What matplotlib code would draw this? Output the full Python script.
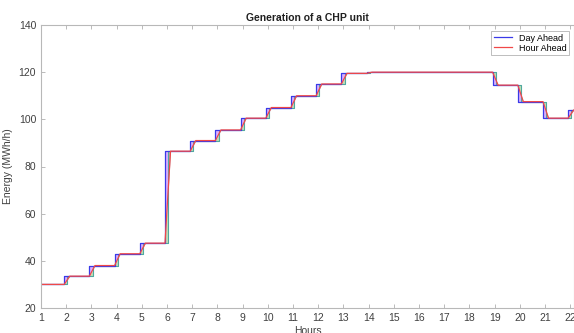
import matplotlib
matplotlib.use("Agg")
import matplotlib.pyplot as plt
import numpy as np

plt.rcParams["font.family"] = ["Liberation Sans", "DejaVu Sans"]

# hourly set-points of the CHP unit (MWh/h), hour 1 .. 22
hours = np.arange(1, 23)
energy = [30, 33.5, 38, 43, 47.5, 86.5, 91, 95.5, 100.5, 105, 110, 115,
          119.5, 120, 120, 120, 120, 120, 114.5, 107.5, 100.5, 104]

x_end = 23.0


def step_path(shift):
    xs, ys = [hours[0]], [energy[0]]
    for h, prev, cur in zip(hours[1:], energy[:-1], energy[1:]):
        xs += [h + shift, h + shift]
        ys += [prev, cur]
    xs.append(x_end)
    ys.append(energy[-1])
    return np.array(xs, float), np.array(ys, float)


def ramp_path(a, b):
    xs, ys = [hours[0]], [energy[0]]
    for h, prev, cur in zip(hours[1:], energy[:-1], energy[1:]):
        xs += [h + a, h + b]
        ys += [prev, cur]
    xs.append(x_end)
    ys.append(energy[-1])
    return np.array(xs, float), np.array(ys, float)


xb, yb = step_path(-0.08)         # day ahead
xt, yt = step_path(0.05)          # delayed schedule
xr, yr = ramp_path(-0.08, 0.14)   # hour ahead

grid = np.linspace(1, x_end, 20000)
yb_g = np.interp(grid, xb, yb)
yt_g = np.interp(grid, xt, yt)
yr_g = np.interp(grid, xr, yr)

fig = plt.figure(figsize=(5.74, 3.33), dpi=100)
ax = fig.add_axes([41 / 574, 1 - 308 / 333, 533 / 574, 283 / 333])

ax.fill_between(grid, yb_g, yr_g, color="#c070ff", alpha=0.55, lw=0)
ax.fill_between(grid, yt_g, yr_g, color="#90c870", alpha=0.55, lw=0)
ax.plot(xt, yt, color="#50a8a0", lw=0.8)
ax.plot(xb, yb, color="#3a3ae8", lw=0.9, label="Day Ahead")
ax.plot(xr, yr, color="#f04848", lw=0.9, label="Hour Ahead")

ax.set_xlim(1, 1 + 533 / 25.2)
ax.set_ylim(20, 140)
ax.set_xticks(hours)
ax.set_yticks(np.arange(20, 141, 20))
ax.tick_params(direction="in", length=3, width=0.6, colors="#b0b0b0",
               labelcolor="#404040", labelsize=7.5, top=True, right=False)
for s in ax.spines.values():
    s.set_color("#b8b8b8")
    s.set_linewidth(0.8)

ax.set_xlabel("Hours", fontsize=7.5, color="#404040", labelpad=2)
ax.set_ylabel("Energy (MWh/h)", fontsize=7.5, color="#404040", labelpad=4)
ax.set_title("Generation of a CHP unit", fontsize=7.5, fontweight="bold",
             color="#202020", pad=3)

leg = ax.legend(loc="upper right", fontsize=6.5, frameon=True, fancybox=False,
                borderpad=0.3, handlelength=2.0, labelspacing=0.1,
                bbox_to_anchor=(1.0, 0.995))
leg.get_frame().set_edgecolor("#a0a0a0")
leg.get_frame().set_linewidth(0.6)

fig.savefig("out.png", dpi=100)
